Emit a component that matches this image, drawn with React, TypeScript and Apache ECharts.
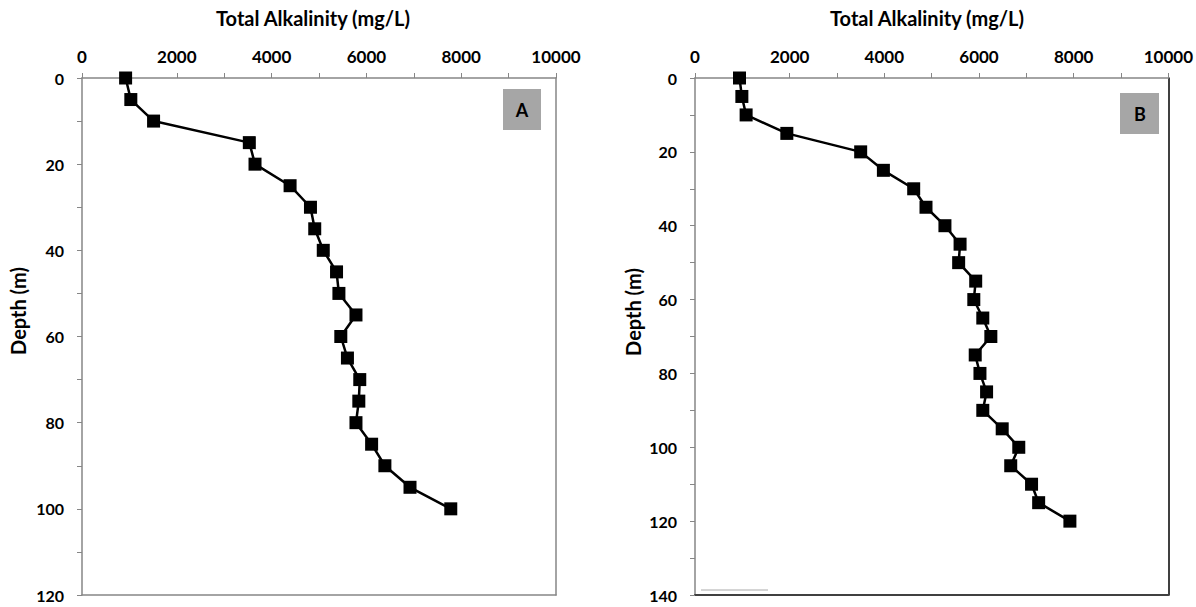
import React, { useEffect, useRef } from "react";
import * as echarts from "echarts";

const depthA = [0, 5, 10, 15, 20, 25, 30, 35, 40, 45, 50, 55, 60, 65, 70, 75, 80, 85, 90, 95, 100];
const alkA = [920, 1030, 1510, 3530, 3650, 4390, 4820, 4910, 5090, 5370, 5420, 5780, 5460, 5600, 5860, 5840, 5780, 6110, 6390, 6920, 7780];

const depthB = [0, 5, 10, 15, 20, 25, 30, 35, 40, 45, 50, 55, 60, 65, 70, 75, 80, 85, 90, 95, 100, 105, 110, 115, 120];
const alkB = [940, 990, 1080, 1940, 3500, 3980, 4620, 4880, 5280, 5600, 5570, 5930, 5890, 6080, 6250, 5920, 6020, 6160, 6080, 6490, 6840, 6670, 7110, 7260, 7920];

const xTitle = "Total Alkalinity (mg/L)";
const yTitle = "Depth (m)";
const panelLabels = ["A", "B"];
const depthMax = [120, 140];

const FONT = "Lato";
const AXIS_GRAY = "#868686";

export default function App() {
  const ref = useRef<HTMLDivElement>(null);
  useEffect(() => {
    if (!ref.current) return;
    const chart = echarts.init(ref.current, undefined, { renderer: "svg" });
    const grids = [
      { left: 82, top: 78, width: 474, height: 517 },
      { left: 695, top: 78, width: 474, height: 517 },
    ];
    const xAxes: any[] = [];
    const yAxes: any[] = [];
    grids.forEach((g, i) => {
      xAxes.push({
        gridIndex: i,
        type: "value",
        position: "top",
        min: 0,
        max: 10000,
        interval: 1000,
        axisLine: { show: true, lineStyle: { color: AXIS_GRAY, width: 1.5 } },
        axisTick: { show: true, inside: false, length: 5, lineStyle: { color: AXIS_GRAY } },
        axisLabel: {
          margin: 13,
          color: "#000",
          fontFamily: FONT,
          fontWeight: "bold",
          fontSize: 17,
          formatter: (v: number) => (v % 2000 === 0 ? String(v) : ""),
        },
        splitLine: { show: false },
      });
      xAxes.push({
        gridIndex: i,
        type: "value",
        position: "bottom",
        min: 0,
        max: 10000,
        axisLine: { show: true, onZero: false, lineStyle: { color: i === 0 ? AXIS_GRAY : "#404040", width: i === 0 ? 1.5 : 2 } },
        axisTick: { show: false },
        axisLabel: { show: false },
        splitLine: { show: false },
      });
      yAxes.push({
        gridIndex: i,
        type: "value",
        position: "left",
        inverse: true,
        min: 0,
        max: depthMax[i],
        interval: 10,
        axisLine: { show: true, onZero: false, lineStyle: { color: AXIS_GRAY, width: 1.5 } },
        axisTick: { show: true, inside: false, length: 5, lineStyle: { color: AXIS_GRAY } },
        axisLabel: {
          margin: 18,
          color: "#000",
          fontFamily: FONT,
          fontWeight: "bold",
          fontSize: 16,
          formatter: (v: number) => (v % 20 === 0 ? String(v) : ""),
        },
        splitLine: { show: false },
      });
      yAxes.push({
        gridIndex: i,
        type: "value",
        position: "right",
        inverse: true,
        min: 0,
        max: depthMax[i],
        axisLine: { show: true, onZero: false, lineStyle: { color: i === 0 ? AXIS_GRAY : "#000", width: 1.5 } },
        axisTick: { show: false },
        axisLabel: { show: false },
        splitLine: { show: false },
      });
    });

    const mk = (alk: number[], dep: number[]) => alk.map((a, k) => [a, dep[k]]);

    const series: any[] = [
      {
        type: "line",
        xAxisIndex: 0,
        yAxisIndex: 0,
        data: mk(alkA, depthA),
        symbol: "rect",
        symbolSize: 13,
        lineStyle: { color: "#000", width: 2.5 },
        itemStyle: { color: "#000" },
      },
      {
        type: "line",
        xAxisIndex: 2,
        yAxisIndex: 2,
        data: mk(alkB, depthB),
        symbol: "rect",
        symbolSize: 13,
        lineStyle: { color: "#000", width: 2.5 },
        itemStyle: { color: "#000" },
      },
    ];

    const titleStyle = { fontFamily: FONT, fontWeight: "bold", fontSize: 20, fill: "#000" };
    const boxStyle = { fontFamily: FONT, fontWeight: "bold", fontSize: 18, fill: "#000" };
    const graphic: any[] = [
      { type: "text", x: 313, y: 18, style: { ...titleStyle, text: xTitle, align: "center", verticalAlign: "middle" } },
      { type: "text", x: 927, y: 18, style: { ...titleStyle, text: xTitle, align: "center", verticalAlign: "middle" } },
      { type: "text", x: 18, y: 311, rotation: Math.PI / 2, style: { ...titleStyle, text: yTitle, align: "center", verticalAlign: "middle" } },
      { type: "text", x: 633, y: 312, rotation: Math.PI / 2, style: { ...titleStyle, text: yTitle, align: "center", verticalAlign: "middle" } },
      { type: "rect", shape: { x: 503, y: 89, width: 38, height: 41 }, style: { fill: "#a6a6a6" } },
      { type: "text", x: 522, y: 110, style: { ...boxStyle, text: panelLabels[0], align: "center", verticalAlign: "middle" } },
      { type: "rect", shape: { x: 1120, y: 93, width: 39, height: 41 }, style: { fill: "#a6a6a6" } },
      { type: "text", x: 1140, y: 114, style: { ...boxStyle, text: panelLabels[1], align: "center", verticalAlign: "middle" } },
      { type: "line", shape: { x1: 701, y1: 590, x2: 768, y2: 590 }, style: { stroke: "#aaaaaa", lineWidth: 1 } },
    ];

    chart.setOption({
      animation: false,
      backgroundColor: "#fff",
      grid: grids,
      xAxis: xAxes,
      yAxis: yAxes,
      series,
      graphic,
    });
    return () => chart.dispose();
  }, []);
  return <div ref={ref} style={{ position: "absolute", left: 0, top: 0, width: 1196, height: 607 }} />;
}
